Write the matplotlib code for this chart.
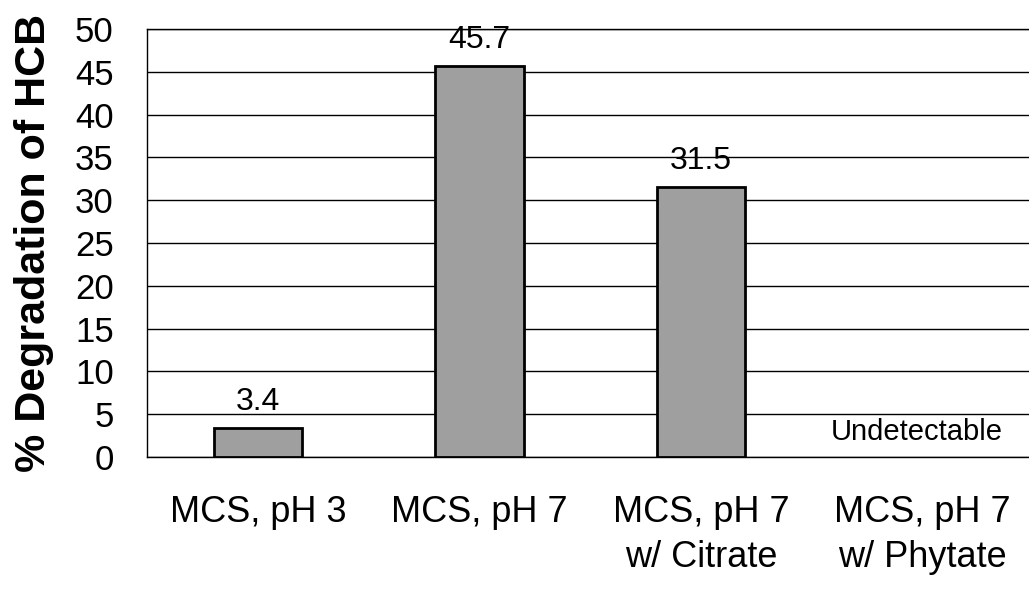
import matplotlib
matplotlib.use("Agg")
import matplotlib.pyplot as plt

# data
categories = ["MCS, pH 3", "MCS, pH 7", "MCS, pH 7\nw/ Citrate", "MCS, pH 7\nw/ Phytate"]
degradation = [3.4, 45.7, 31.5, None]   # None = not detected
value_labels = ["3.4", "45.7", "31.5", "Undetectable"]
yticks = list(range(0, 51, 5))

plt.rcParams['font.family'] = ['Liberation Sans', 'DejaVu Sans']

fig = plt.figure(figsize=(10.29, 5.92), dpi=100)
ax = fig.add_axes([0.143, 0.228, 0.861, 0.723])

x = list(range(len(categories)))
heights = [v if v is not None else 0 for v in degradation]
bars = ax.bar(x, heights, width=0.4, color='#9f9f9f', edgecolor='black',
              linewidth=2, zorder=3)
for b, v in zip(bars, degradation):
    if v is None:
        b.set_visible(False)

# value labels above the bars
for i, (v, lab) in enumerate(zip(degradation, value_labels)):
    if v is None:
        ax.annotate(lab, (i, 0), xytext=(-4, 12), textcoords='offset points',
                    ha='center', va='baseline', fontsize=21)
    else:
        ax.annotate(lab, (i, v), xytext=(0, 13), textcoords='offset points',
                    ha='center', va='baseline', fontsize=23)

ax.set_xlim(-0.5, len(categories) - 0.5)
ax.set_ylim(0, 50)
ax.set_yticks(yticks)
ax.set_xticks(x)
ax.set_xticklabels(categories, fontsize=26, linespacing=1.4)
ax.tick_params(axis='y', length=0, pad=24, labelsize=25)
ax.tick_params(axis='x', length=0, pad=27)
ax.yaxis.grid(True, color='black', linewidth=1)
ax.set_axisbelow(True)

for side in ['right']:
    ax.spines[side].set_visible(False)
for side in ['left', 'bottom', 'top']:
    ax.spines[side].set_color('black')
    ax.spines[side].set_linewidth(1)

ax.set_ylabel("% Degradation of HCB", fontsize=31, fontweight='bold', labelpad=15)

fig.savefig("out.png", dpi=100)
